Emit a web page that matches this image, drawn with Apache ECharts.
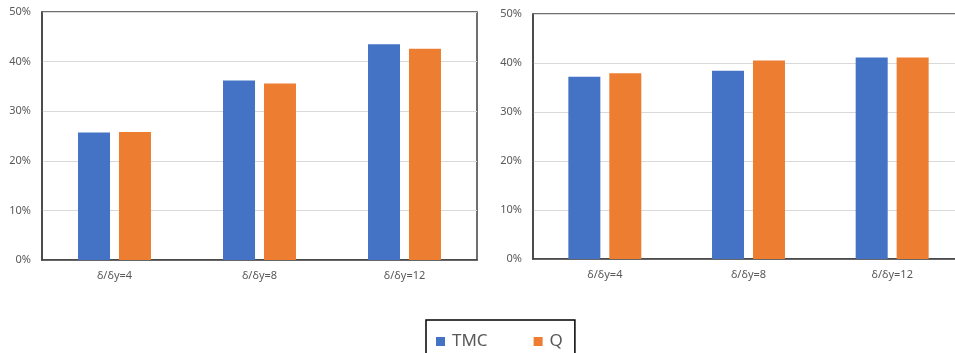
<!DOCTYPE html>
<html>
<head>
<meta charset="utf-8">
<script src="https://cdn.jsdelivr.net/npm/echarts@6/dist/echarts.min.js"></script>
<style>
  html, body { margin: 0; padding: 0; background: #fff; }
  #chart { width: 955px; height: 353px; }
</style>
</head>
<body>
<div id="chart"></div>
<script>
// Categories shared by both panels
const categories = ['δ/δy=4', 'δ/δy=8', 'δ/δy=12'];
// Left panel values (%)
const tmcLeft = [25.7, 36.2, 43.5];
const qLeft = [25.8, 35.6, 42.6];
// Right panel values (%)
const tmcRight = [37.2, 38.4, 41.1];
const qRight = [37.9, 40.5, 41.1];
const seriesNames = ['TMC', 'Q'];
const colors = ['#4472C4', '#ED7D31'];

const font = 'Noto Sans';
const labelColor = '#595959';
const frameColor = '#404040';

function xAxis(gridIndex) {
  return {
    type: 'category', gridIndex, data: categories,
    axisLine: { lineStyle: { color: frameColor, width: 1.5 } },
    axisTick: { show: false },
    axisLabel: { color: labelColor, fontFamily: font, fontSize: 11, margin: 10 }
  };
}
function yAxis(gridIndex) {
  return {
    type: 'value', gridIndex, min: 0, max: 50, interval: 10,
    axisLine: { show: true, lineStyle: { color: frameColor, width: 1.5 } },
    axisTick: { show: false },
    axisLabel: { color: labelColor, fontFamily: font, fontSize: 11, margin: 11, formatter: '{value}%' },
    splitLine: { lineStyle: { color: '#d9d9d9', width: 1 } }
  };
}
function bar(name, data, idx, color) {
  return {
    name, type: 'bar', xAxisIndex: idx, yAxisIndex: idx, data,
    barWidth: 32, barGap: '28%',
    itemStyle: { color },
    emphasis: { disabled: true }
  };
}

const chart = echarts.init(document.getElementById('chart'), null, { renderer: 'canvas' });
chart.setOption({
  animation: false,
  color: colors,
  grid: [
    { left: 42, top: 12, width: 435, height: 248, outerBoundsMode: 'none',
      show: true, borderColor: frameColor, borderWidth: 1.5 },
    // the right panel runs past the canvas edge
    { left: 533, top: 14, width: 431, height: 245, outerBoundsMode: 'none',
      show: true, borderColor: frameColor, borderWidth: 1.5 }
  ],
  xAxis: [xAxis(0), xAxis(1)],
  yAxis: [yAxis(0), yAxis(1)],
  legend: {
    data: seriesNames,
    left: 426, top: 320,
    orient: 'horizontal',
    icon: 'rect', itemWidth: 9, itemHeight: 9, itemGap: 46,
    padding: [13, 12, 30, 10],
    borderColor: '#000', borderWidth: 1.5,
    textStyle: { color: labelColor, fontFamily: font, fontSize: 17, padding: [0, 0, 0, 2] }
  },
  series: [
    bar(seriesNames[0], tmcLeft, 0, colors[0]),
    bar(seriesNames[1], qLeft, 0, colors[1]),
    bar(seriesNames[0], tmcRight, 1, colors[0]),
    bar(seriesNames[1], qRight, 1, colors[1])
  ]
});
</script>
</body>
</html>
